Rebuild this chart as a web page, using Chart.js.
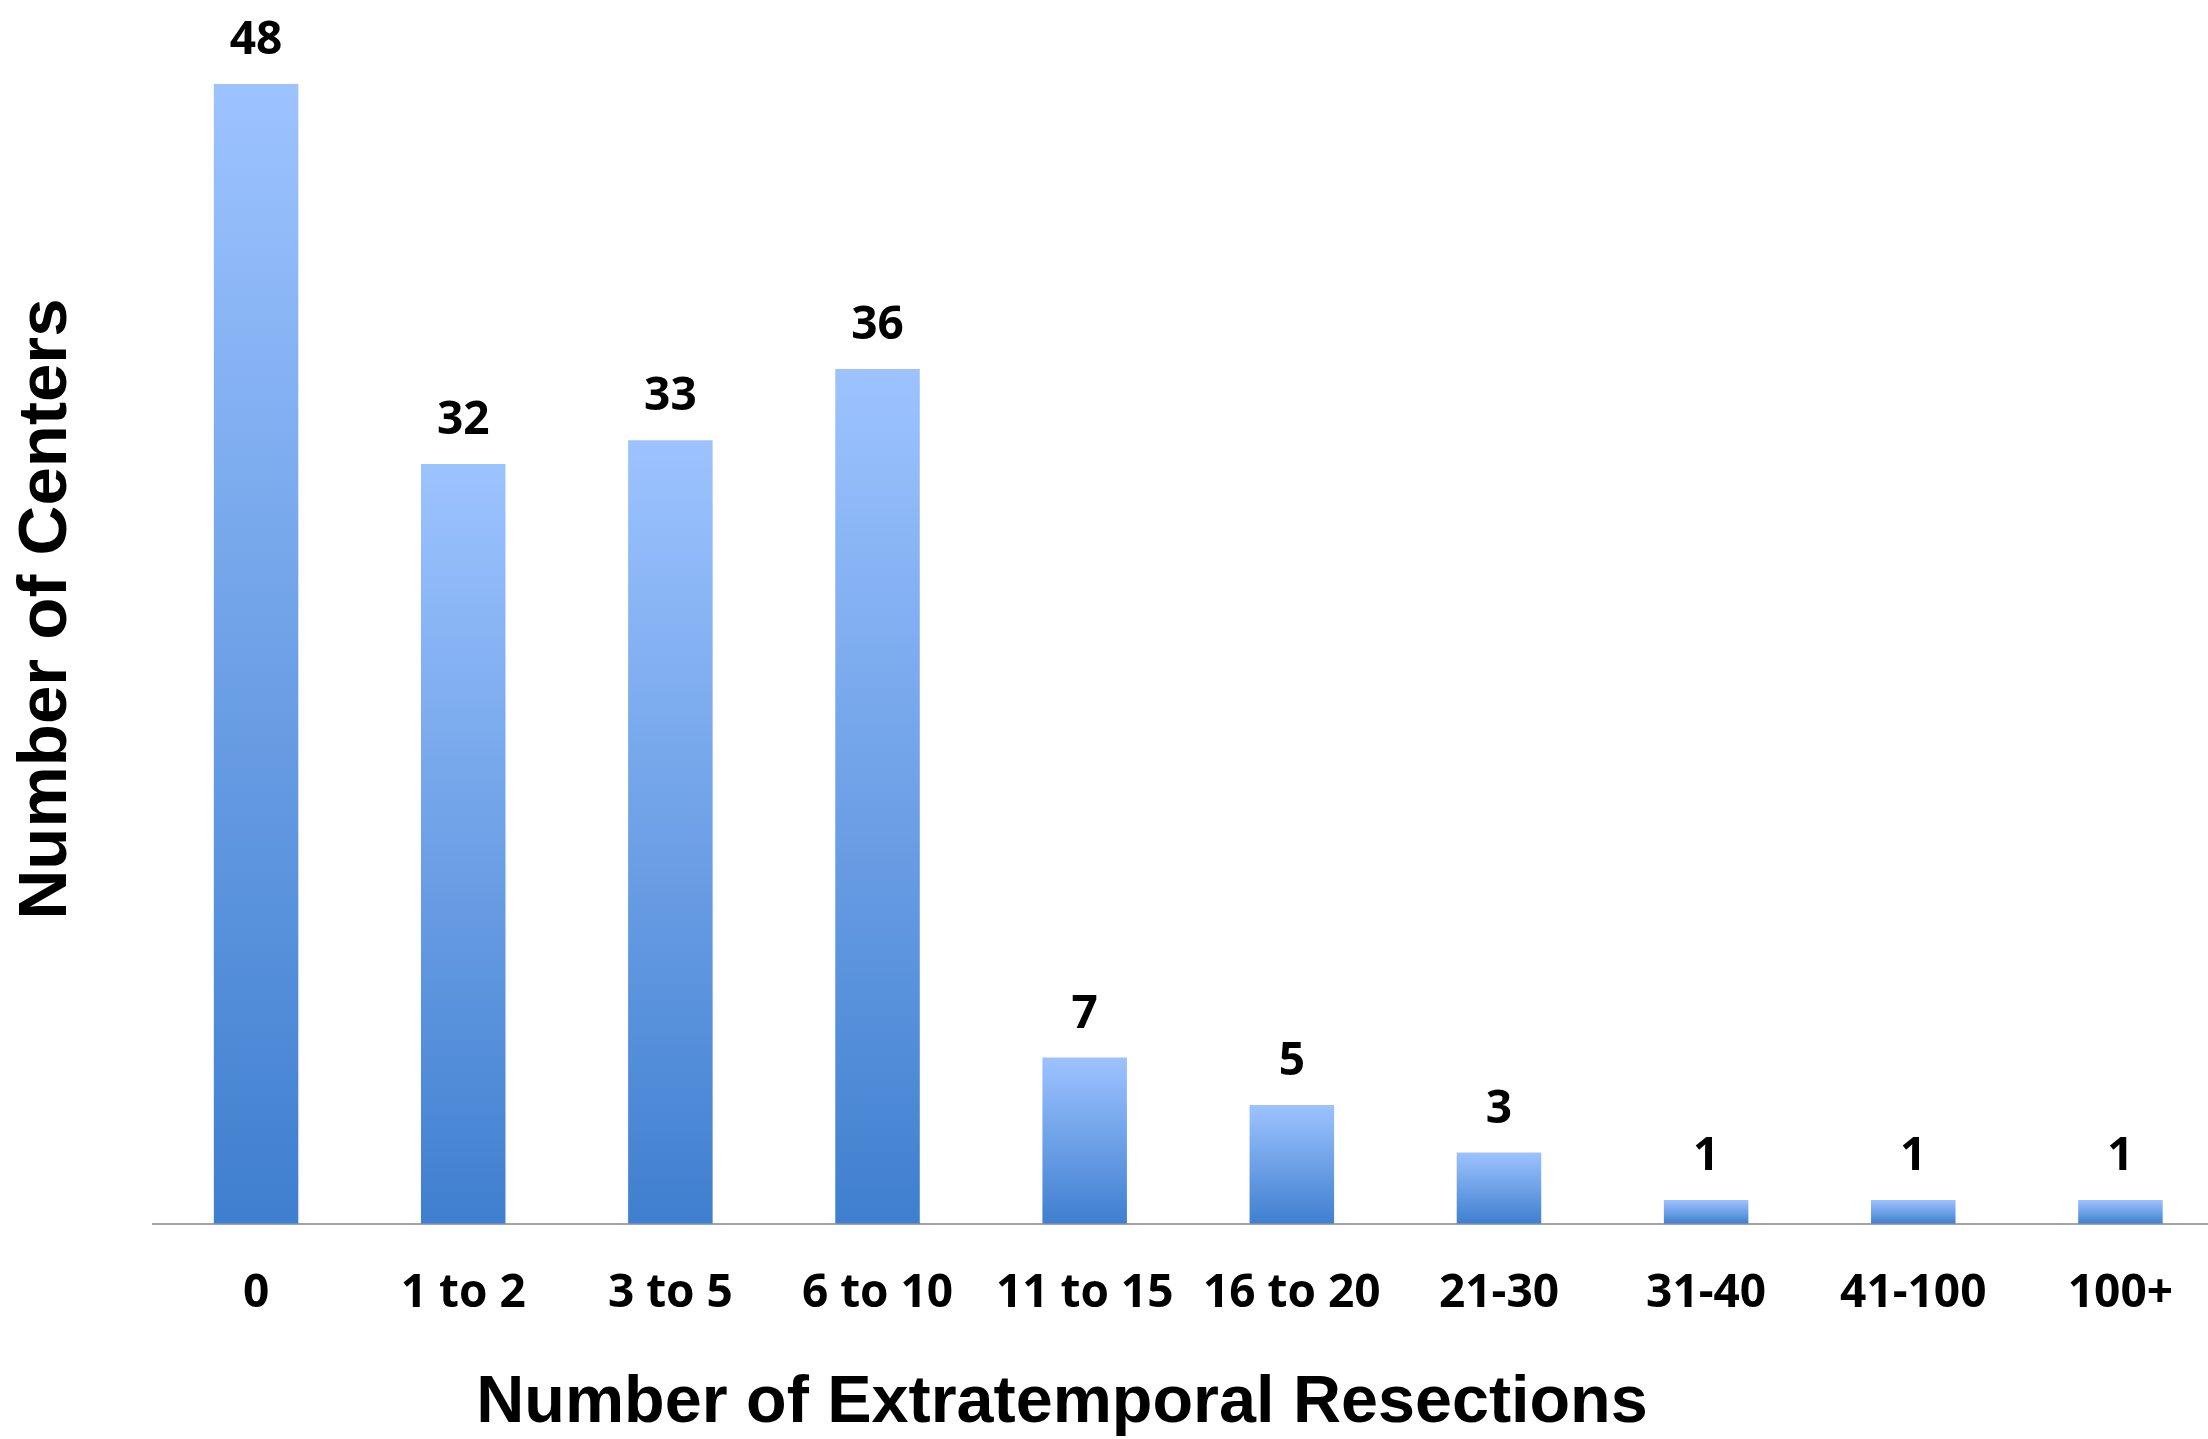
<!DOCTYPE html>
<html>
<head>
<meta charset="utf-8">
<script src="https://cdn.jsdelivr.net/npm/chart.js@4/dist/chart.umd.min.js"></script>
<style>
  html, body { margin: 0; padding: 0; background: #fff; overflow: hidden; }
  #wrap { width: 2224px; height: 1439px; }
</style>
</head>
<body>
<div id="wrap"><canvas id="chart" width="2224" height="1439"></canvas></div>
<script>
// Centers by number of extratemporal resections
const categories = ['0', '1 to 2', '3 to 5', '6 to 10', '11 to 15', '16 to 20', '21-30', '31-40', '41-100', '100+'];
const centers = [48, 32, 33, 36, 7, 5, 3, 1, 1, 1];
const xTitle = 'Number of Extratemporal Resections';
const yTitle = 'Number of Centers';

const labelFont = { family: '"Open Sans", sans-serif', size: 46, weight: 'bold' };
const titleFamily = '"Liberation Sans", Arial, sans-serif';

function barGradient(ctx) {
  const chart = ctx.chart;
  if (!chart.chartArea) return '#6fa0e6';
  const y = chart.scales.y;
  const top = y.getPixelForValue(ctx.raw);
  const bottom = y.getPixelForValue(0);
  const g = chart.ctx.createLinearGradient(0, top, 0, bottom);
  g.addColorStop(0, '#9dc3ff');
  g.addColorStop(1, '#3f7fcf');
  return g;
}

// value above each bar + the two axis titles
const annotate = {
  id: 'annotate',
  afterDatasetsDraw(chart) {
    const { ctx } = chart;
    const meta = chart.getDatasetMeta(0);
    ctx.save();
    ctx.fillStyle = '#000';
    ctx.textAlign = 'center';
    ctx.textBaseline = 'middle';
    ctx.font = `bold ${labelFont.size}px ${labelFont.family}`;
    meta.data.forEach((bar, i) => {
      ctx.fillText(String(centers[i]), bar.x, bar.y - 43);
    });

    ctx.font = `bold 66.5px ${titleFamily}`;
    ctx.fillText(xTitle, 1062, 1404);

    ctx.translate(47, 609);
    ctx.rotate(-Math.PI / 2);
    ctx.font = `bold 69px ${titleFamily}`;
    ctx.fillText(yTitle, 0, 0);
    ctx.restore();
  },
};

new Chart(document.getElementById('chart'), {
  type: 'bar',
  data: {
    labels: categories,
    datasets: [{
      data: centers,
      backgroundColor: barGradient,
      borderWidth: 0,
      barPercentage: 0.408,
      categoryPercentage: 1,
    }],
  },
  options: {
    responsive: false,
    animation: false,
    layout: { padding: { top: 36.5, left: 152.5, right: 0, bottom: 76 } },
    plugins: { legend: { display: false }, tooltip: { enabled: false } },
    scales: {
      x: {
        grid: { display: false, drawTicks: false, tickLength: 0 },
        border: { display: true, color: '#a3a3a3', width: 2 },
        ticks: { color: '#000', font: labelFont, padding: 42 },
      },
      y: {
        display: false,
        min: 0,
        max: 50,
      },
    },
  },
  plugins: [annotate],
});
</script>
</body>
</html>
